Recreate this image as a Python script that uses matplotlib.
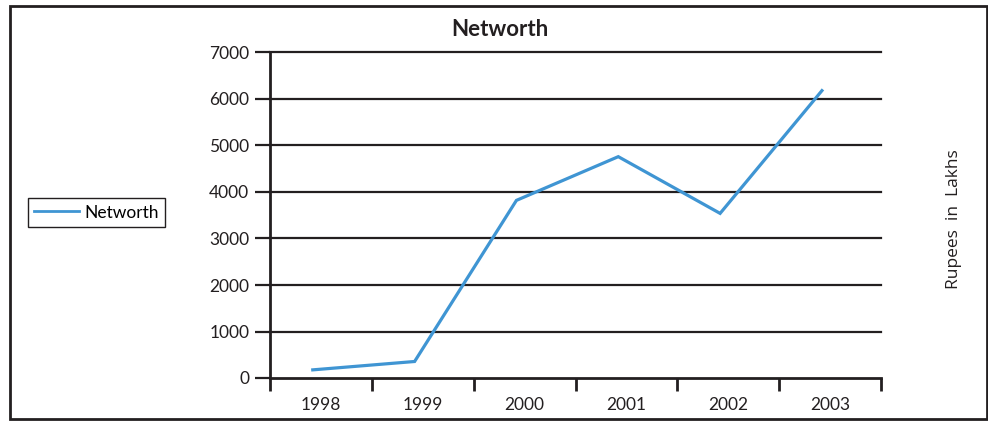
import matplotlib
matplotlib.use("Agg")
import matplotlib.pyplot as plt
from matplotlib.patches import Rectangle
from matplotlib.lines import Line2D
import numpy as np

years = ["1998", "1999", "2000", "2001", "2002", "2003"]
networth = [175, 355, 3820, 4760, 3540, 6180]
y_ticks = [0, 1000, 2000, 3000, 4000, 5000, 6000, 7000]

title = "Networth"
series_name = "Networth"
unit_label = "Rupees  in  Lakhs"

line_color = "#3f95d3"
ink = "#231f20"
main_font = "Lato"

W, H = 988, 421
fig = plt.figure(figsize=(W / 100, H / 100), dpi=100)

# outer frame around the whole chart
fig.patches.append(Rectangle((10 / W, 2 / H), 977 / W, 413 / H, transform=fig.transFigure,
                             fill=False, edgecolor=ink, linewidth=2.0, zorder=0))

ax = fig.add_axes([270 / W, 1 - 378 / H, (881 - 270) / W, (378 - 52.5) / H])

n = len(years)
centers = np.arange(n) + 0.5
ax.plot(centers - 0.08, networth, color=line_color, linewidth=2.3,
        solid_joinstyle="miter", zorder=3, clip_on=False)

ax.set_xlim(0, n)
ax.set_ylim(0, 7000)

# horizontal gridlines
for v in y_ticks[1:]:
    ax.axhline(v, color=ink, linewidth=1.6, zorder=1, clip_on=False)

ax.set_yticks(y_ticks)
ax.set_yticklabels([str(v) for v in y_ticks], fontsize=12.5, family=main_font, color=ink)
ax.tick_params(axis="y", length=11, width=1.6, color=ink, pad=4, direction="out")

ax.set_xticks(np.arange(n + 1))
ax.set_xticklabels([])
ax.tick_params(axis="x", length=9, width=2, color=ink, direction="out")
ax.set_xticks(centers, minor=True)
ax.set_xticklabels(years, minor=True, fontsize=12.5, family=main_font, color=ink)
ax.tick_params(axis="x", which="minor", length=0, pad=14)

for side in ("top", "right"):
    ax.spines[side].set_visible(False)
for side in ("left", "bottom"):
    ax.spines[side].set_color(ink)
    ax.spines[side].set_linewidth(2)
ax.spines["bottom"].set_zorder(2)

fig.text(500 / W, 1 - 29 / H, title, ha="center", va="center",
         fontsize=16, fontweight="bold", family=main_font, color=ink)

fig.text(954 / W, 1 - 219 / H, unit_label, rotation=90, ha="center", va="center",
         fontsize=12.5, family="Open Sans", color=ink)

handle = Line2D([], [], color=line_color, linewidth=2)
fig.legend([handle], [series_name], loc="center left",
           bbox_to_anchor=(28 / W, 1 - 212.5 / H), frameon=True, fancybox=False,
           edgecolor=ink, framealpha=1, prop={"family": main_font, "size": 12.5},
           handlelength=2.6, handletextpad=0.3, borderpad=0.35, borderaxespad=0)
fig.legends[0].get_frame().set_linewidth(1.0)

fig.savefig("out.png", dpi=100, facecolor="white")
